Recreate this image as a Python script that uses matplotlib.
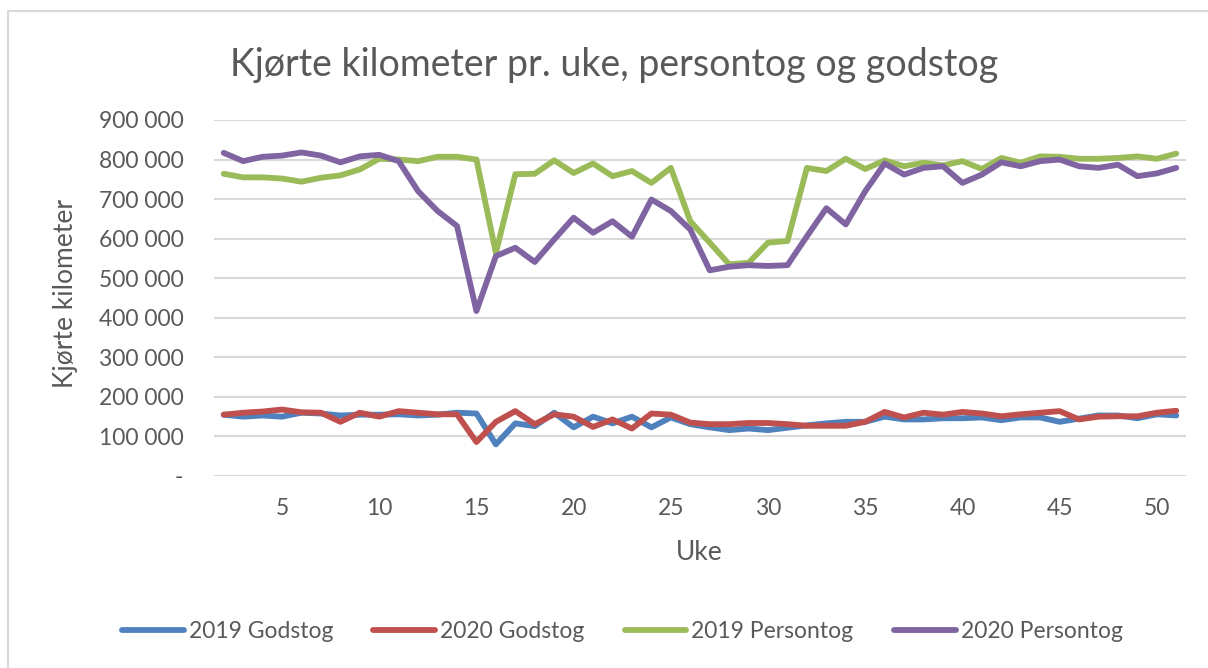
import numpy as np
import matplotlib
matplotlib.use("Agg")
from matplotlib import pyplot as plt
from matplotlib.patches import Rectangle

uker = list(range(2, 52))

# thousands of km
gods_2019 = [155, 150, 153, 150, 160, 158, 153, 155, 155, 156, 153, 155, 160, 158,
             80, 133, 126, 160, 123, 150, 133, 150, 123, 148, 131, 123, 116, 120, 116,
             122, 128, 133, 137, 137, 150, 143, 143, 146, 146, 148, 141, 148, 148, 137,
             145, 153, 153, 146, 156, 153]
gods_2020 = [155, 160, 163, 168, 161, 160, 137, 160, 150, 164, 160, 156, 156, 86,
             137, 164, 131, 156, 150, 124, 143, 120, 158, 155, 135, 131, 131, 134, 134,
             131, 127, 127, 127, 137, 162, 148, 160, 155, 162, 158, 151, 156, 160, 164,
             143, 150, 151, 151, 160, 165]
person_2019 = [764, 755, 755, 752, 744, 754, 760, 775, 802, 800, 796, 807, 807, 800,
               564, 763, 764, 798, 766, 790, 758, 771, 741, 779, 644, 590, 535, 539, 590,
               594, 779, 771, 802, 776, 798, 783, 792, 785, 796, 776, 804, 792, 808, 807,
               802, 802, 804, 808, 802, 815]
person_2020 = [817, 796, 807, 810, 818, 810, 793, 808, 812, 796, 720, 670, 632, 417,
               556, 577, 541, 598, 653, 615, 644, 605, 699, 670, 623, 520, 529, 533, 531,
               533, 606, 677, 636, 720, 790, 762, 779, 783, 741, 762, 793, 783, 796, 800,
               783, 779, 787, 758, 765, 779]

serier = ["2019 Godstog", "2020 Godstog", "2019 Persontog", "2020 Persontog"]
farger = ["#4F81BD", "#C0504D", "#9BBB59", "#8064A2"]

plt.rcParams['font.family'] = ['Lato', 'DejaVu Sans']
grå = "#595959"

fig = plt.figure(figsize=(12.08, 6.68), dpi=100)
ax = fig.add_axes([214/1208, 1 - 476/668, (1186 - 214)/1208, (476 - 120)/668])

# chart border
fig.patches.append(Rectangle((8/1208, -0.1), 1.1, 1 - 11/668 + 0.1, transform=fig.transFigure,
                             fill=False, edgecolor="#D9D9D9", linewidth=1.5))

for data, navn, farge in zip([gods_2019, gods_2020, person_2019, person_2020], serier, farger):
    ax.plot(uker, np.array(data) * 1000, color=farge, linewidth=4.2, label=navn,
            solid_capstyle="round", solid_joinstyle="round")

ax.set_xlim(1.5, 51.5)
ax.set_ylim(0, 900000)
yt = np.arange(0, 900001, 100000)
ax.set_yticks(yt)
ax.set_yticklabels(["-"] + ["{:,}".format(v).replace(",", " ") for v in yt[1:]])
ax.set_xticks(range(5, 51, 5))
ax.tick_params(length=0, labelsize=16.5, colors=grå)
ax.tick_params(axis="y", pad=22)
ax.tick_params(axis="x", pad=16)
ax.grid(axis="y", color="#D9D9D9", linewidth=1.5)
ax.set_axisbelow(True)
for s in ax.spines.values():
    s.set_visible(False)

fig.text(699.5/1208, 1 - 553/668, "Uke", fontsize=19, color=grå, ha="center", va="center")
fig.text(65/1208, 1 - 294/668, "Kjørte kilometer", fontsize=19, color=grå, ha="center",
         va="center", rotation=90)
fig.text(614/1208, 1 - 65/668, "Kjørte kilometer pr. uke, persontog og godstog", fontsize=27,
         color=grå, ha="center", va="center")

fig.legend(loc="center", bbox_to_anchor=(0.515, 1 - 632/668), ncol=4, frameon=False,
           fontsize=16.5, labelcolor=grå, handlelength=2.7, handletextpad=0.22,
           columnspacing=1.75)

fig.savefig("out.png", dpi=100)
